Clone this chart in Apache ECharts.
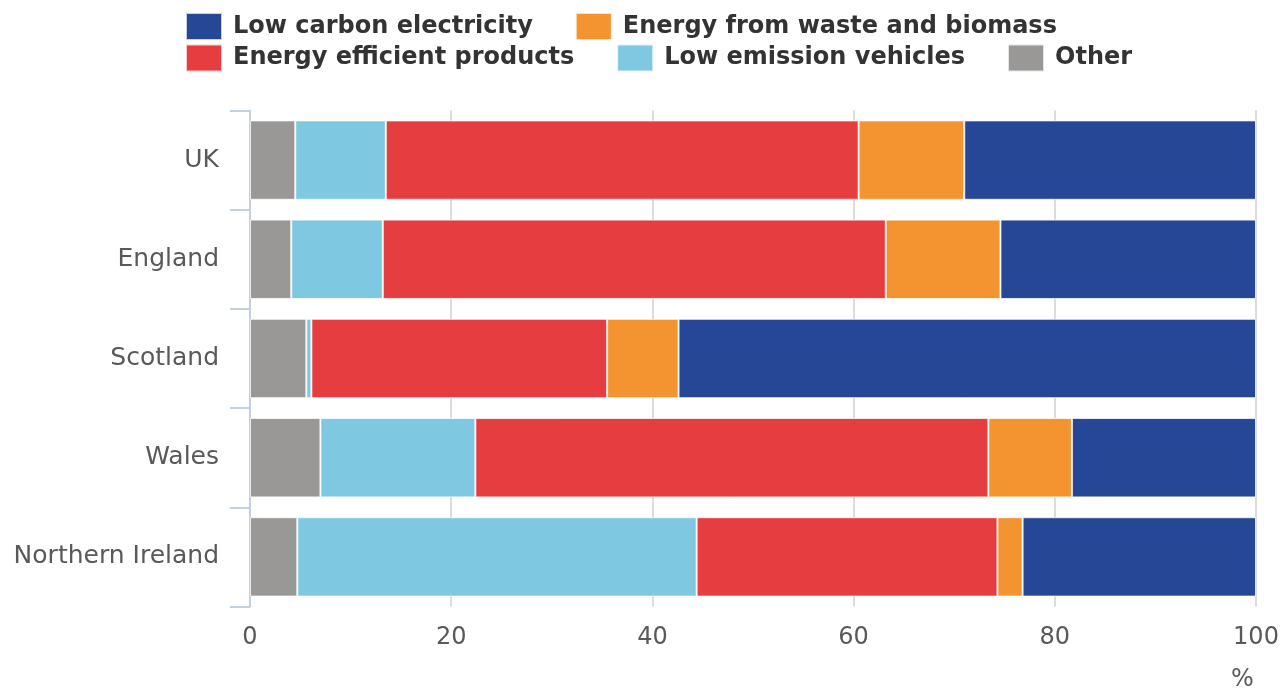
<!DOCTYPE html>
<html>
<head>
<meta charset="utf-8">
<script src="https://cdn.jsdelivr.net/npm/echarts@6/dist/echarts.min.js"></script>
<style>html,body{margin:0;padding:0;background:#fff}#c{width:1288px;height:691px}</style>
</head>
<body>
<div id="c"></div>
<script>
const categories = ['UK', 'England', 'Scotland', 'Wales', 'Northern Ireland'];
const xTicks = [0, 20, 40, 60, 80, 100];
const other = [4.5, 4.1, 5.6, 7.0, 4.7];
const lowEmissionVehicles = [9.0, 9.1, 0.5, 15.4, 39.7];
const energyEfficientProducts = [47.0, 50.0, 29.4, 51.0, 29.9];
const energyFromWaste = [10.5, 11.4, 7.1, 8.3, 2.5];
const lowCarbonElectricity = [29.0, 25.4, 57.4, 18.3, 23.2];

const FONT = 'DejaVu Sans';
const colors = {
  'Low carbon electricity': '#264796',
  'Energy from waste and biomass': '#f39430',
  'Energy efficient products': '#e63e40',
  'Low emission vehicles': '#7ec8e1',
  'Other': '#999896'
};
function mk(name, data) {
  return {
    name: name, type: 'bar', stack: 'total', data: data,
    barCategoryGap: '20%',
    itemStyle: { color: colors[name], borderColor: 'rgba(255,255,255,0.75)', borderWidth: 1 },
    emphasis: { disabled: true }
  };
}
const legendCommon = {
  left: 185, padding: 0, itemWidth: 36, itemHeight: 27, itemGap: 42, icon: 'rect',
  textStyle: { fontFamily: FONT, fontSize: 24, fontWeight: 'bold', color: '#333', padding: [0, 0, 0, 6] },
  selectedMode: false
};
const chart = echarts.init(document.getElementById('c'), null, { renderer: 'canvas' });
chart.setOption({
  animation: false,
  backgroundColor: '#fff',
  legend: [
    Object.assign({ top: 12, data: ['Low carbon electricity', 'Energy from waste and biomass'] }, legendCommon),
    Object.assign({ top: 43.5, data: ['Energy efficient products', 'Low emission vehicles', 'Other'] }, legendCommon)
  ],
  grid: { left: 250, right: 32, top: 110.5, bottom: 84.5, containLabel: false },
  xAxis: {
    type: 'value', min: xTicks[0], max: xTicks[xTicks.length - 1], interval: 20,
    axisLine: { show: false }, axisTick: { show: false },
    axisLabel: { fontFamily: FONT, fontSize: 24, color: '#595959', margin: 19 },
    splitLine: { show: true, lineStyle: { color: ['#777', '#dcdcdc', '#dcdcdc', '#dcdcdc', '#dcdcdc', '#dcdcdc'], width: 2 } }
  },
  yAxis: {
    type: 'category', data: categories, inverse: true,
    axisLine: { show: true, lineStyle: { color: '#c3d0e0', width: 2 } },
    axisTick: { show: true, length: 20, lineStyle: { color: '#c3d0e0', width: 2 } },
    axisLabel: { fontFamily: FONT, fontSize: 25, color: '#595959', margin: 31, padding: [3, 0, 0, 0] }
  },
  graphic: [{
    type: 'text', left: 1231, top: 668,
    style: { text: '%', fontFamily: FONT, fontSize: 24, fill: '#595959' }
  }],
  series: [
    mk('Other', other),
    mk('Low emission vehicles', lowEmissionVehicles),
    mk('Energy efficient products', energyEfficientProducts),
    mk('Energy from waste and biomass', energyFromWaste),
    mk('Low carbon electricity', lowCarbonElectricity)
  ]
});
</script>
</body>
</html>
